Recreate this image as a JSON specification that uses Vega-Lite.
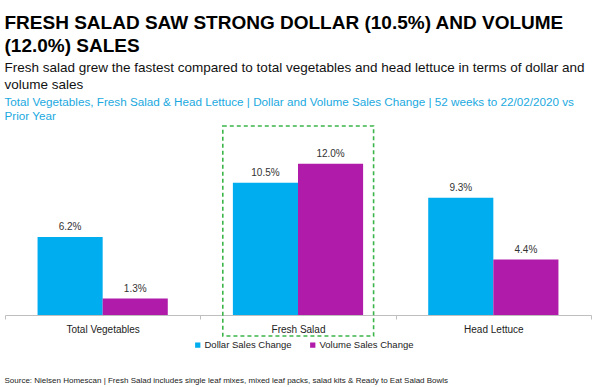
{
  "$schema": "https://vega.github.io/schema/vega-lite/v6.json",
  "padding": {"left": 4, "top": 14, "right": 4, "bottom": 0},
  "background": "white",
  "config": {"view": {"stroke": null}, "font": "Liberation Sans", "concat": {"spacing": 0}},
  "title": {
    "text": ["FRESH SALAD SAW STRONG DOLLAR (10.5%) AND VOLUME", "(12.0%) SALES"],
    "subtitle": ["Fresh salad grew the fastest compared to total vegetables and head lettuce in terms of dollar and", "volume sales"],
    "anchor": "start",
    "font": "Liberation Sans",
    "fontSize": 19,
    "fontWeight": "bold",
    "lineHeight": 23,
    "color": "#000000",
    "subtitleFont": "Liberation Sans",
    "subtitleFontSize": 13.5,
    "subtitleLineHeight": 16.5,
    "subtitleColor": "#111111",
    "subtitlePadding": 5,
    "offset": 6
  },
  "vconcat": [
    {
      "title": {
        "text": "Source: Nielsen Homescan | Fresh Salad includes single leaf mixes, mixed leaf packs, salad kits & Ready to Eat Salad Bowls",
        "orient": "bottom",
        "anchor": "start",
        "fontSize": 8,
        "fontWeight": "normal",
        "color": "#222222",
        "offset": 27
      },
      "resolve": {"legend": {"color": "independent"}},
      "vconcat": [
        {
          "title": {
            "text": ["Total Vegetables, Fresh Salad & Head Lettuce | Dollar and Volume Sales Change | 52 weeks to 22/02/2020 vs", "Prior Year"],
            "anchor": "start",
            "fontSize": 11.7,
            "fontWeight": "normal",
            "lineHeight": 13.5,
            "color": "#1aa9e0",
            "offset": 3
          },
          "width": 586,
          "height": 189,
          "data": {
            "values": [
              {"Category": "Total Vegetables", "Measure": "Dollar Sales Change", "Change": 0.062},
              {"Category": "Total Vegetables", "Measure": "Volume Sales Change", "Change": 0.013},
              {"Category": "Fresh Salad", "Measure": "Dollar Sales Change", "Change": 0.105},
              {"Category": "Fresh Salad", "Measure": "Volume Sales Change", "Change": 0.120},
              {"Category": "Head Lettuce", "Measure": "Dollar Sales Change", "Change": 0.093},
              {"Category": "Head Lettuce", "Measure": "Volume Sales Change", "Change": 0.044}
            ]
          },
          "encoding": {
            "x": {
              "field": "Category",
              "type": "nominal",
              "sort": ["Total Vegetables", "Fresh Salad", "Head Lettuce"],
              "scale": {"paddingInner": 0, "paddingOuter": 0},
              "axis": {
                "title": null,
                "labelAngle": 0,
                "labelFontSize": 10,
                "labelColor": "#222222",
                "labelPadding": 5,
                "domainColor": "#bfbfbf",
                "tickColor": "#bfbfbf",
                "tickBand": "extent",
                "tickSize": 4,
                "grid": false
              }
            },
            "y": {
              "field": "Change",
              "type": "quantitative",
              "scale": {"domain": [0, 0.15], "nice": false},
              "axis": null
            }
          },
          "layer": [
            {
              "mark": {"type": "bar"},
              "encoding": {
                "xOffset": {
                  "field": "Measure",
                  "type": "nominal",
                  "scale": {"paddingOuter": 0.5, "paddingInner": 0}
                },
                "color": {
                  "field": "Measure",
                  "type": "nominal",
                  "scale": {"domain": ["Dollar Sales Change", "Volume Sales Change"], "range": ["#00adef", "#b01ca9"]},
                  "legend": {
                    "title": null,
                    "orient": "none",
                    "legendX": 188,
                    "legendY": 214,
                    "direction": "horizontal",
                    "padding": 0,
                    "symbolType": "square",
                    "symbolSize": 28,
                    "symbolStrokeWidth": 0,
                    "labelFontSize": 9.5,
                    "labelColor": "#222222",
                    "labelOffset": 2,
                    "columnPadding": 16
                  }
                }
              }
            },
            {
              "mark": {"type": "text", "dy": -10, "fontSize": 10, "color": "#333333"},
              "encoding": {
                "xOffset": {"field": "Measure", "type": "nominal"},
                "text": {"field": "Change", "type": "quantitative", "format": ".1%"}
              }
            },
            {
              "data": {"values": [{"Category": "Fresh Salad", "Top": 0.15, "Bottom": -0.0167}]},
              "mark": {"type": "rect", "fill": null, "stroke": "#3bb54a", "strokeWidth": 1.6, "strokeDash": [4, 3], "clip": false},
              "encoding": {
                "x": {"field": "Category", "type": "nominal", "bandPosition": 0.115},
                "x2": {"field": "Category", "bandPosition": 0.887},
                "y": {"field": "Top", "type": "quantitative"},
                "y2": {"field": "Bottom"}
              }
            }
          ]
        }
      ]
    }
  ]
}
